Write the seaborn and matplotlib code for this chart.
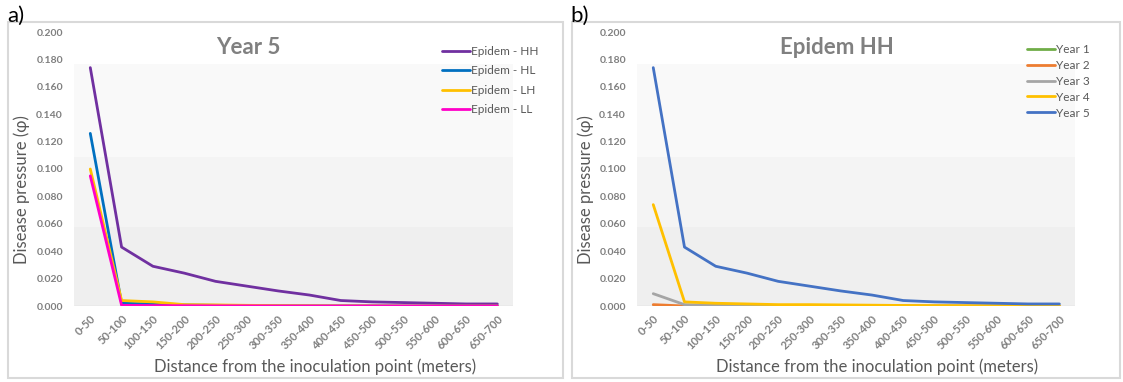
import numpy as np
import pandas as pd
import matplotlib
matplotlib.use("Agg")
import matplotlib.pyplot as plt
from matplotlib.patches import Rectangle
import seaborn as sns

# ---------------- data ----------------
categories = ["0-50", "50-100", "100-150", "150-200", "200-250", "250-300", "300-350",
              "350-400", "400-450", "450-500", "500-550", "550-600", "600-650", "650-700"]

epidem_hh = [0.174, 0.043, 0.029, 0.024, 0.018, 0.0145, 0.011, 0.008, 0.004, 0.003, 0.0025, 0.002, 0.0015, 0.0015]
epidem_hl = [0.126, 0.002, 0.0015, 0.0008, 0.0005, 0.0003, 0.0002, 0.0001, 0.0001, 0.0001, 0.0, 0.0, 0.0, 0.0]
epidem_lh = [0.100, 0.004, 0.003, 0.001, 0.0008, 0.0005, 0.0003, 0.0002, 0.0001, 0.0001, 0.0, 0.0, 0.0, 0.0]
epidem_ll = [0.095, 0.0005, 0.0003, 0.0002, 0.0001, 0.0001, 0.0, 0.0, 0.0, 0.0, 0.0, 0.0, 0.0, 0.0]

year1 = [0.0] * 14
year2 = [0.001, 0.0, 0.0, 0.0, 0.0, 0.0, 0.0, 0.0, 0.0, 0.0, 0.0, 0.0, 0.0, 0.0]
year3 = [0.009, 0.001, 0.0005, 0.0003, 0.0002, 0.0001, 0.0, 0.0, 0.0, 0.0, 0.0, 0.0, 0.0, 0.0]
year4 = [0.074, 0.003, 0.002, 0.0015, 0.001, 0.001, 0.0008, 0.0006, 0.0004, 0.0003, 0.0002, 0.0002, 0.0001, 0.0001]
year5 = epidem_hh

series_a_names = ["Epidem - HH", "Epidem - HL", "Epidem - LH", "Epidem - LL"]
series_a_values = [epidem_hh, epidem_hl, epidem_lh, epidem_ll]
series_a_colors = ["#7030A0", "#0070C0", "#FFC000", "#FF00C8"]

series_b_names = ["Year 1", "Year 2", "Year 3", "Year 4", "Year 5"]
series_b_values = [year1, year2, year3, year4, year5]
series_b_colors = ["#70AD47", "#ED7D31", "#A5A5A5", "#FFC000", "#4472C4"]

yticks = [0.0, 0.02, 0.04, 0.06, 0.08, 0.10, 0.12, 0.14, 0.16, 0.18, 0.20]

# ---------------- style ----------------
sns.set_theme(style="white")
plt.rcParams["font.family"] = ["Lato", "DejaVu Sans"]

W, H = 1123, 382
fig = plt.figure(figsize=(W / 100, H / 100), dpi=100)

GRAY = "#595959"
TICKGRAY = "#7F7F7F"


def px_axes(left, right, top, bottom):
    return fig.add_axes([left / W, 1 - bottom / H, (right - left) / W, (bottom - top) / H])


def long_df(names, values):
    rows = []
    for name, vals in zip(names, values):
        for i, v in enumerate(vals):
            rows.append({"series": name, "pos": i, "value": v})
    return pd.DataFrame(rows)


def draw_panel(ax, left_px, right_px, names, values, colors, title, title_x_px,
               legend_anchor, legend_spacing):
    ax.set_facecolor("white")
    ax.axhspan(0.0, 0.058, color="#EFEFEF", zorder=0, lw=0)
    ax.axhspan(0.058, 0.109, color="#F4F4F4", zorder=0, lw=0)
    ax.axhspan(0.109, 0.177, color="#F9F9F9", zorder=0, lw=0)
    ax.axhline(0, color="#D9D9D9", lw=1.0, zorder=1)
    df = long_df(names, values)
    sns.lineplot(data=df, x="pos", y="value", hue="series", hue_order=names,
                 palette=dict(zip(names, colors)), lw=2.0, ax=ax, legend=True,
                 estimator=None, sort=False)
    ax.set_xlim(-0.52, 13.5)
    ax.set_ylim(0, 0.2)
    ax.set_yticks(yticks)
    ax.set_yticklabels([f"{t:.3f}" for t in yticks], fontsize=7.5, fontweight="bold", color=TICKGRAY)
    ax.set_xticks(range(len(categories)))
    ax.set_xticklabels(categories, rotation=45, ha="right", rotation_mode="anchor",
                       fontsize=8, fontweight="bold", color=TICKGRAY)
    ax.tick_params(axis="y", length=0, pad=8)
    ax.tick_params(axis="x", length=0, pad=5)
    for s in ax.spines.values():
        s.set_visible(False)
    ax.set_xlabel("Distance from the inoculation point (meters)", fontsize=12, color=GRAY)
    ax.set_ylabel("Disease pressure (\u03c6)", fontsize=12, color=GRAY)
    width = right_px - left_px
    ax.xaxis.set_label_coords((315 - 74 + (left_px - 74) * 0 - 0) / width if left_px == 74 else (877 - left_px) / width,
                              -(367 - 306) / 274)
    ax.yaxis.set_label_coords(-(left_px - (22 if left_px == 74 else 586)) / width, (306 - 190) / 274)
    ax.xaxis.label.set_va("center")
    ax.yaxis.label.set_va("center")
    tx = (title_x_px - left_px) / width
    ax.text(tx, (306 - 47) / 274, title, transform=ax.transAxes, fontsize=16, fontweight="bold",
            color="#808080", ha="center", va="center")
    leg = ax.legend(loc="upper left", bbox_to_anchor=legend_anchor, frameon=False,
                    fontsize=8.5, handlelength=2.4, handletextpad=0.1,
                    labelspacing=legend_spacing, borderaxespad=0)
    for t in leg.get_texts():
        t.set_color(GRAY)
    for line in leg.get_lines():
        line.set_linewidth(2.0)


ax_a = px_axes(74, 513, 32, 306)
draw_panel(ax_a, 74, 513, series_a_names, series_a_values, series_a_colors, "Year 5", 248,
           ((437 - 74) / 439, (306 - 41) / 274), 0.72)

ax_b = px_axes(637, 1075, 32, 306)
draw_panel(ax_b, 637, 1075, series_b_names, series_b_values, series_b_colors, "Epidem HH", 837,
           ((1022 - 637) / 438, (306 - 39) / 274), 0.42)

# panel frames
for (x0, x1) in [(8, 563), (572, 1120)]:
    fig.patches.append(Rectangle((x0 / W, 1 - 378 / H), (x1 - x0) / W, (378 - 22) / H,
                                 transform=fig.transFigure, fill=False,
                                 edgecolor="#D9D9D9", lw=1.5, zorder=0))

fig.text(7 / W, 1 - 16 / H, "a)", fontsize=16, color="black", va="center", ha="left")
fig.text(570 / W, 1 - 16 / H, "b)", fontsize=16, color="black", va="center", ha="left")

fig.savefig("out.png", dpi=100)
